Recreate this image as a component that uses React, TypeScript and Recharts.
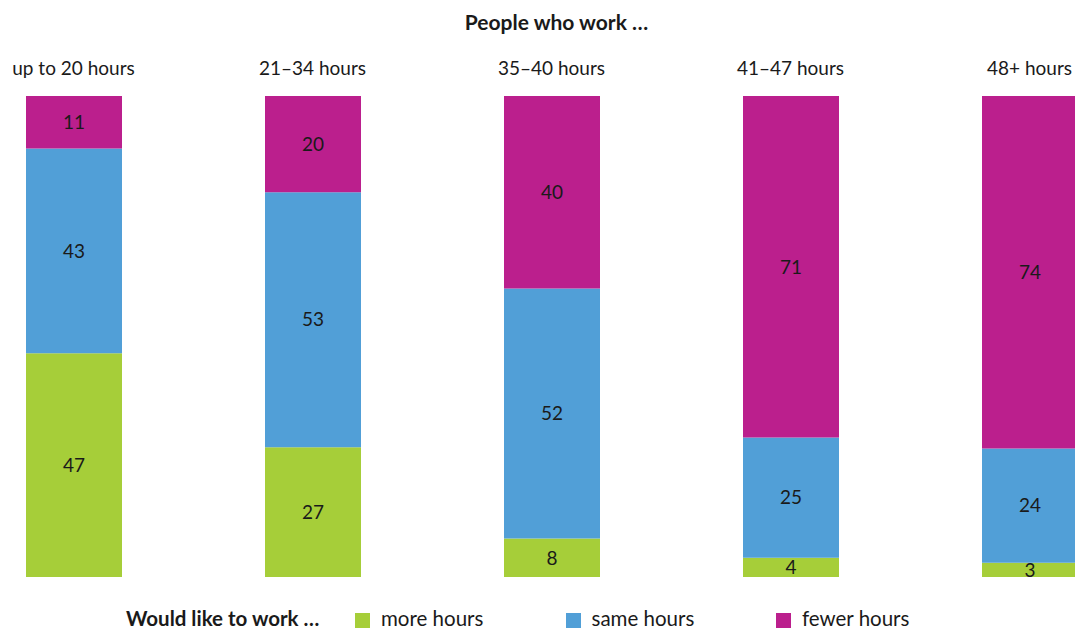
import { BarChart, Bar, XAxis, YAxis, LabelList } from 'recharts';

const categories = ['up to 20 hours', '21–34 hours', '35–40 hours', '41–47 hours', '48+ hours'];
const moreHours = [47, 27, 8, 4, 3];
const sameHours = [43, 53, 52, 25, 24];
const fewerHours = [11, 20, 40, 71, 74];

const series = [
  { key: 'more', name: 'more hours', color: '#a6ce39' },
  { key: 'same', name: 'same hours', color: '#519fd7' },
  { key: 'fewer', name: 'fewer hours', color: '#bb1f8d' },
];

const data = categories.map((c, i) => ({ cat: c, more: moreHours[i], same: sameHours[i], fewer: fewerHours[i] }));

const FONT = 'Lato, "Noto Sans", sans-serif';

function TopTick({ x, payload }: any) {
  return (
    <text x={x} y={67} textAnchor="middle" dominantBaseline="central" fontSize={19} fill="#1a1a1a" fontFamily={FONT}>
      {payload.value}
    </text>
  );
}

export default function App() {
  return (
    <div style={{ position: 'absolute', left: 0, top: 0, width: 1075, height: 630, overflow: 'hidden', background: '#fff', fontFamily: FONT, color: '#1a1a1a' }}>
      <div style={{ position: 'absolute', left: 0, width: 1113, top: 10, lineHeight: '24px', textAlign: 'center', fontSize: 21, fontWeight: 700 }}>
        People who work …
      </div>
      <div style={{ position: 'absolute', left: -46.5, top: 0 }}>
        <BarChart width={1195} height={630} data={data} stackOffset="expand" margin={{ top: 66, bottom: 53, left: 0, right: 0 }} barSize={96}>
          <XAxis dataKey="cat" orientation="top" height={30} axisLine={false} tickLine={false} tick={<TopTick />} interval={0} />
          <YAxis hide domain={[0, 1]} />
          {series.map(s => (
            <Bar key={s.key} dataKey={s.key} stackId="a" fill={s.color} isAnimationActive={false}>
              <LabelList dataKey={s.key} position="center" fill="#1a1a1a" fontSize={19} fontFamily={FONT} />
            </Bar>
          ))}
        </BarChart>
      </div>
      <div style={{ position: 'absolute', left: 126, top: 608, lineHeight: '20px', fontSize: 20.5, fontWeight: 700 }}>Would like to work …</div>
      {series.map((s, i) => (
        <div key={s.key} style={{ position: 'absolute', left: 355 + i * 210.5, top: 608, lineHeight: '20px', fontSize: 20.5, display: 'flex', alignItems: 'center' }}>
          <span style={{ display: 'inline-block', width: 15, height: 15, background: s.color, marginRight: 11, marginTop: 5 }} />
          <span>{s.name}</span>
        </div>
      ))}
    </div>
  );
}
